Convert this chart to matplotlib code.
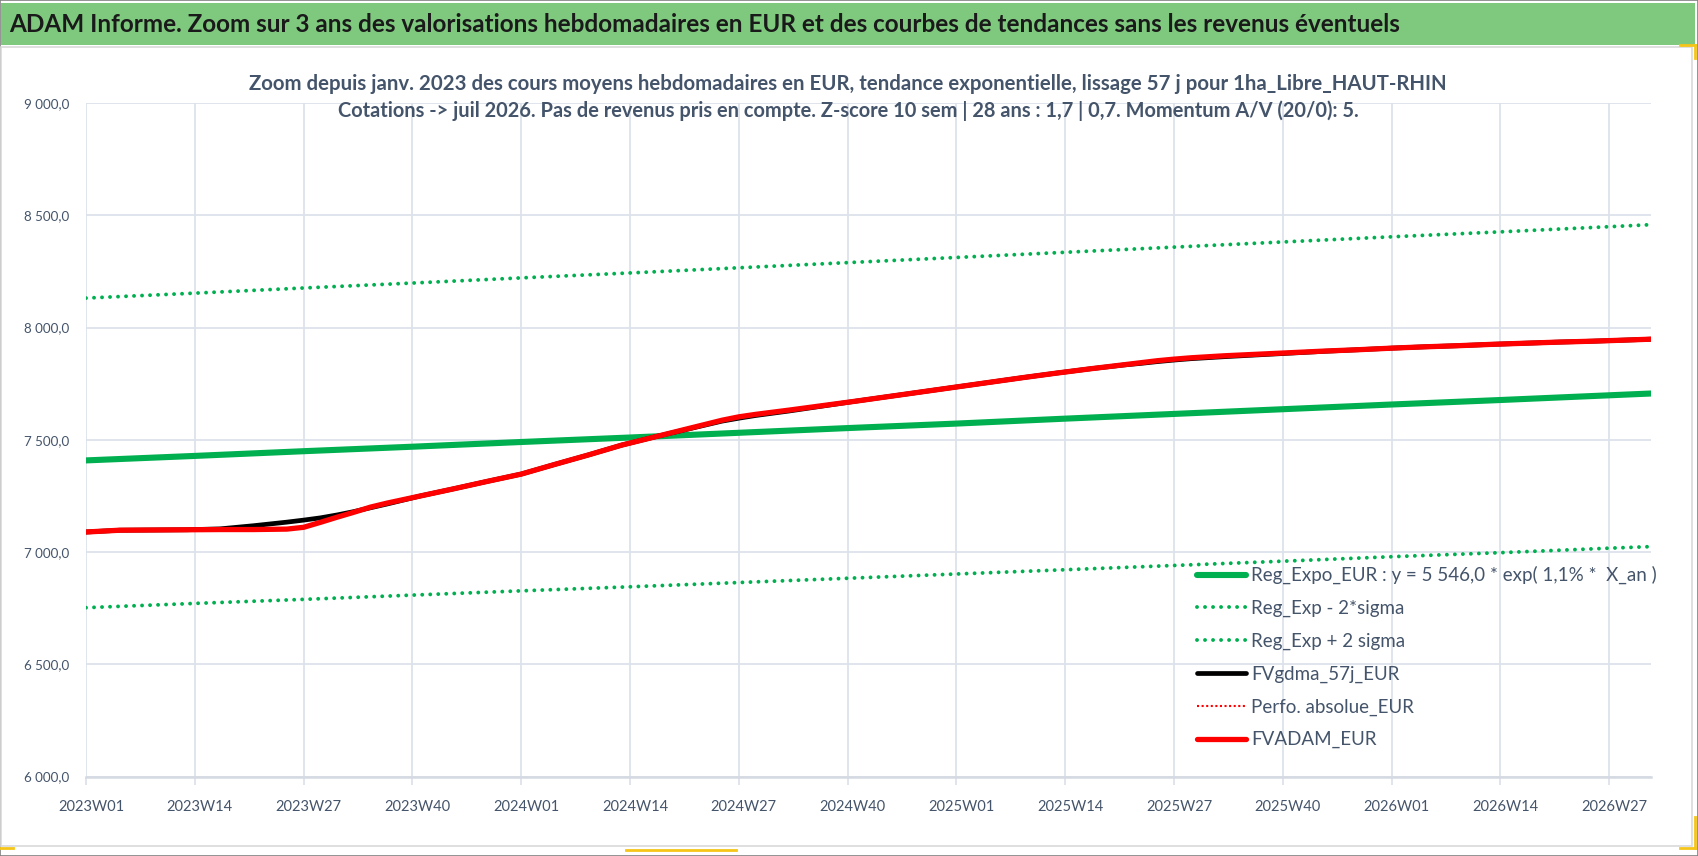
import numpy as np
import matplotlib
matplotlib.use('Agg')
import matplotlib.pyplot as plt
import matplotlib.transforms as mtransforms
from matplotlib.patches import Rectangle
from matplotlib.lines import Line2D
from matplotlib.ticker import FuncFormatter

plt.rcParams['font.family'] = ['Lato', 'DejaVu Sans']

# week index 0 = 2023W01, one step per ISO week
tick_pos = [0, 13, 26, 39, 52, 65, 78, 91, 104, 117, 130, 143, 156, 169, 182]
tick_labels = ['2023W01', '2023W14', '2023W27', '2023W40',
               '2024W01', '2024W14', '2024W27', '2024W40',
               '2025W01', '2025W14', '2025W27', '2025W40',
               '2026W01', '2026W14', '2026W27']

# trend lines read every 13 weeks (+ last week)
trend_weeks = [0, 13, 26, 39, 52, 65, 78, 91, 104, 117, 130, 143, 156, 169, 182, 187]
reg_expo = [7408, 7428, 7449, 7469, 7490, 7510, 7531, 7552, 7572, 7594, 7615, 7636,
            7657, 7677, 7698, 7706]
reg_minus = [6752, 6771, 6789, 6808, 6827, 6845, 6864, 6883, 6902, 6921, 6940, 6959,
             6979, 6997, 7017, 7024]
reg_plus = [8131, 8153, 8176, 8198, 8221, 8243, 8266, 8289, 8312, 8335, 8358, 8381,
            8404, 8426, 8449, 8458]

# smoothed prices
price_weeks = [0, 4, 8, 12, 16, 18, 20, 22, 24, 26, 28, 30, 32, 34, 36, 38, 40, 44, 48,
               52, 56, 60, 64, 68, 72, 76, 78, 80, 84, 88, 92, 96, 100, 104, 108, 112,
               116, 120, 124, 126, 128, 130, 132, 136, 140, 144, 148, 152, 156, 160, 164,
               168, 172, 176, 180, 184, 187]
fvadam = [7089, 7097, 7098, 7099, 7100, 7100, 7100, 7101, 7102, 7110, 7132, 7155, 7177,
          7200, 7218, 7234, 7250, 7282, 7315, 7347, 7390, 7432, 7476, 7513, 7550, 7587,
          7602, 7613, 7632, 7652, 7672, 7693, 7714, 7735, 7756, 7777, 7797, 7816, 7834,
          7843, 7852, 7859, 7865, 7874, 7881, 7888, 7895, 7901, 7908, 7914, 7919, 7925,
          7930, 7935, 7939, 7944, 7948]
fvgdma = [7089, 7097, 7098, 7099, 7103, 7110, 7117, 7125, 7133, 7142, 7152, 7165, 7180,
          7197, 7214, 7232, 7250, 7282, 7315, 7347, 7390, 7432, 7476, 7513, 7548, 7583,
          7596, 7608, 7628, 7650, 7672, 7693, 7714, 7735, 7756, 7777, 7797, 7816, 7833,
          7840, 7848, 7855, 7861, 7870, 7878, 7886, 7894, 7901, 7908, 7914, 7919, 7925,
          7930, 7935, 7939, 7944, 7948]

GREEN = '#00b050'
TEXT = '#44546a'
GRID = '#dde2ea'
W, H = 1698, 856


def fx(px):
    return px / W


def fy(py):
    return 1 - py / H


def thousands(v, pos):
    return '{:,.1f}'.format(v).replace(',', ' ').replace('.', ',')


def main():
    fig = plt.figure(figsize=(W / 100, H / 100), dpi=100)

    # frame, header band and chart area
    fig.add_artist(Rectangle((0, 0), 1, 1, transform=fig.transFigure, fc='white',
                             ec='#808080', lw=1.2, zorder=0))
    fig.add_artist(Rectangle((fx(1), fy(846)), fx(1691), (846 - 47) / H,
                             transform=fig.transFigure, fc='white', ec='#d9d9d9',
                             lw=1.2, zorder=0))
    fig.add_artist(Rectangle((fx(1), fy(45)), fx(1694), 42 / H, transform=fig.transFigure,
                             fc='#7fc97f', ec='none', zorder=1))
    fig.text(fx(9), fy(24), 'ADAM Informe. Zoom sur 3 ans des valorisations hebdomadaires '
             'en EUR et des courbes de tendances sans les revenus éventuels',
             fontsize=17.45, fontweight='bold', color='#1a1a1a', va='center', ha='left')

    # yellow selection marks
    for (x0, y0, x1, y1) in [(1680, 45, 1695, 45), (1695, 45, 1695, 58),
                             (1695, 817, 1695, 848), (1680, 848, 1695, 848),
                             (0, 848, 13, 848), (626, 850, 736, 850)]:
        fig.add_artist(Line2D([fx(x0), fx(x1)], [fy(y0), fy(y1)], transform=fig.transFigure,
                              color='#f5c518', lw=2))

    fig.text(fx(848), fy(84), 'Zoom depuis janv. 2023 des cours moyens hebdomadaires en EUR, '
             'tendance exponentielle, lissage 57 j pour 1ha_Libre_HAUT-RHIN',
             fontsize=14.7, fontweight='bold', color=TEXT, ha='center', va='center')
    fig.text(fx(848), fy(111), 'Cotations -> juil 2026. Pas de revenus pris en compte. '
             'Z-score 10 sem | 28 ans : 1,7 | 0,7. Momentum A/V (20/0): 5.',
             fontsize=14.4, fontweight='bold', color=TEXT, ha='center', va='center')

    ax = fig.add_axes([fx(86), fy(776.5), fx(1651 - 86), (776.5 - 103) / H])
    ax.set_facecolor('none')

    ax.plot(trend_weeks, reg_expo, color=GREEN, lw=4.4, solid_capstyle='round',
            label='Reg_Expo_EUR : y = 5 546,0 * exp( 1,1% *  X_an )')
    ax.plot(trend_weeks, reg_minus, color=GREEN, lw=2.8, linestyle=(0, (0.01, 2.05)),
            dash_capstyle='round', label='Reg_Exp - 2*sigma')
    ax.plot(trend_weeks, reg_plus, color=GREEN, lw=2.8, linestyle=(0, (0.01, 2.05)),
            dash_capstyle='round', label='Reg_Exp + 2 sigma')
    ax.plot(price_weeks, fvgdma, color='black', lw=3.4, solid_capstyle='round',
            label='FVgdma_57j_EUR')
    ax.plot(price_weeks, fvadam, color='red', lw=1.5, linestyle=(0, (1, 1.2)),
            label='Perfo. absolue_EUR')
    ax.plot(price_weeks, fvadam, color='red', lw=3.8, solid_capstyle='round',
            label='FVADAM_EUR')

    ax.set_xlim(0, 187)
    ax.set_ylim(6000, 9000)
    ax.set_xticks(tick_pos)
    ax.set_xticklabels(tick_labels)
    ax.set_yticks(np.arange(6000, 9001, 500))
    ax.yaxis.set_major_formatter(FuncFormatter(thousands))

    ax.grid(True, color=GRID, lw=1.3)
    ax.set_axisbelow(True)
    for s in ['top', 'right', 'left']:
        ax.spines[s].set_visible(False)
    ax.spines['bottom'].set_color('#d4d9e2')
    ax.spines['bottom'].set_linewidth(1.8)
    ax.tick_params(axis='x', length=6, width=1.3, color=GRID, pad=11, labelsize=10.5,
                   labelcolor=TEXT)
    ax.tick_params(axis='y', length=0, pad=12, labelsize=9.6, labelcolor=TEXT)

    # excel labels sit a few pixels right of their gridline
    shift = mtransforms.ScaledTranslation(5 / 100, 0, fig.dpi_scale_trans)
    for lab in ax.get_xticklabels():
        lab.set_transform(lab.get_transform() + shift)

    leg = ax.legend(loc='upper left', bbox_to_anchor=(fx(1197), fy(566)),
                    bbox_transform=fig.transFigure, frameon=False, fontsize=13.5,
                    handlelength=2.6, handletextpad=0.3, borderpad=0, borderaxespad=0,
                    labelspacing=0.83)
    for t in leg.get_texts():
        t.set_color(TEXT)

    fig.savefig('out.png', dpi=100)


if __name__ == '__main__':
    main()
